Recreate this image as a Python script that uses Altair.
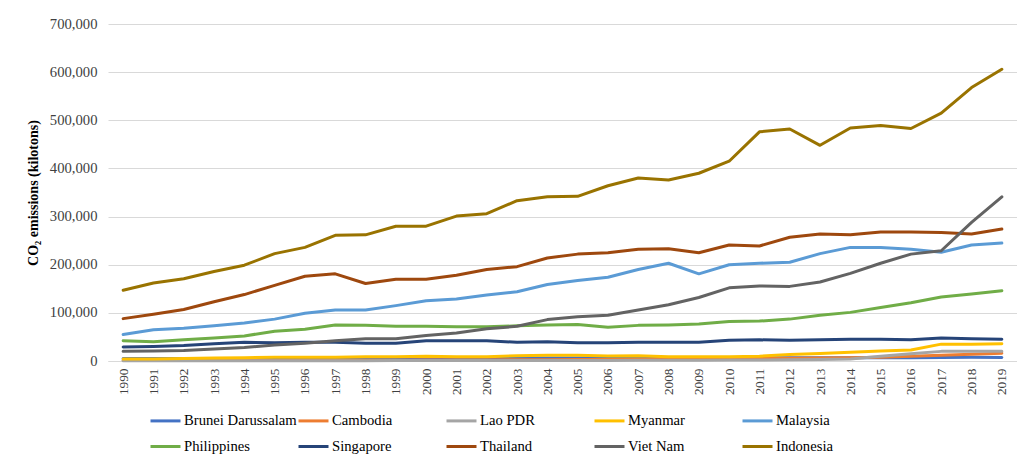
import altair as alt
import pandas as pd

years = ["1990", "1991", "1992", "1993", "1994", "1995", "1996", "1997", "1998", "1999",
         "2000", "2001", "2002", "2003", "2004", "2005", "2006", "2007", "2008", "2009",
         "2010", "2011", "2012", "2013", "2014", "2015", "2016", "2017", "2018", "2019"]

series_names = ["Brunei Darussalam", "Cambodia", "Lao PDR", "Myanmar", "Malaysia",
                "Philippines", "Singapore", "Thailand", "Viet Nam", "Indonesia"]
series_colors = ["#4472C4", "#ED7D31", "#A5A5A5", "#FFC000", "#5B9BD5",
                 "#70AD47", "#264478", "#9E480E", "#636363", "#997300"]

brunei = [5000, 5000, 5000, 5000, 5000, 6000, 6000, 6000, 6000, 6000,
          6000, 6000, 6000, 6000, 6000, 6000, 6000, 6000, 6000, 6000,
          6500, 7000, 7000, 7000, 7000, 7000, 7000, 7500, 8000, 7500]
cambodia = [1000, 1000, 1000, 1000, 1000, 1200, 1300, 1500, 1700, 1800,
            2000, 2200, 2300, 2500, 2600, 3000, 3200, 3500, 4000, 4200,
            5000, 5200, 5500, 6000, 7000, 8000, 10000, 12000, 14000, 16000]
lao = [300, 300, 400, 400, 400, 500, 500, 600, 700, 800,
       1000, 1000, 1000, 1000, 1000, 1100, 1200, 1300, 1500, 1700,
       2000, 2000, 2500, 3000, 4000, 10000, 15000, 20000, 20500, 20500]
myanmar = [4000, 4000, 5000, 6000, 7000, 8000, 8000, 8000, 9000, 9000,
           10000, 9000, 9000, 11000, 12000, 12000, 10500, 11000, 9000, 9000,
           9000, 10000, 13500, 15500, 18000, 21000, 23000, 35000, 35000, 36000]
malaysia = [55000, 65000, 68000, 73000, 79000, 87000, 99000, 106000, 106000, 115000,
            125000, 129000, 137000, 144000, 159000, 167000, 174000, 190000, 203000, 181000,
            200000, 203000, 205000, 223000, 236000, 236000, 232000, 226000, 241000, 245000]
philippines = [42000, 40000, 44000, 48000, 52000, 62000, 66000, 75000, 74000, 72000,
               72000, 71000, 71000, 73000, 75000, 76000, 70000, 74000, 75000, 77000,
               82000, 83000, 87000, 95000, 101000, 111000, 121000, 133000, 139000, 146000]
singapore = [29000, 30000, 32000, 36000, 39000, 38000, 39000, 39000, 37000, 37000,
             42000, 42000, 42000, 39000, 40000, 38000, 38000, 39000, 39000, 39000,
             43000, 44000, 43000, 44000, 45000, 45000, 44000, 48000, 46000, 45000]
thailand = [88000, 97000, 107000, 123000, 138000, 157000, 176000, 181000, 161000, 170000,
            170000, 178000, 190000, 196000, 214000, 222000, 225000, 232000, 233000, 225000,
            241000, 239000, 257000, 264000, 262000, 268000, 268000, 267000, 264000, 274000]
vietnam = [20000, 21000, 22000, 25000, 28000, 33000, 37000, 42000, 46000, 46000,
           53000, 58000, 67000, 72000, 86000, 92000, 95000, 106000, 117000, 132000,
           152000, 156000, 155000, 164000, 182000, 203000, 222000, 229000, 288000, 341000]
indonesia = [147000, 162000, 171000, 186000, 199000, 223000, 236000, 261000, 262000, 280000,
             280000, 301000, 306000, 333000, 341000, 342000, 364000, 380000, 376000, 390000,
             415000, 476000, 482000, 448000, 484000, 489000, 483000, 515000, 568000, 606000]

series_values = [brunei, cambodia, lao, myanmar, malaysia,
                 philippines, singapore, thailand, vietnam, indonesia]

y_ticks = [0, 100000, 200000, 300000, 400000, 500000, 600000, 700000]

rows = []
for idx, (name, vals) in enumerate(zip(series_names, series_values)):
    for yr, v in zip(years, vals):
        rows.append({"Year": yr, "Country": name, "Emissions": v, "ord": idx})
df = pd.DataFrame(rows)

FONT = "'Liberation Serif', 'Times New Roman', Times, serif"

chart = alt.Chart(df).mark_line(
    strokeWidth=3, strokeJoin="round", strokeCap="round"
).encode(
    x=alt.X("Year:O", sort=years,
            scale=alt.Scale(type="point", padding=0.5),
            axis=alt.Axis(title=None, labelAngle=270, labelFont=FONT, labelFontSize=13.3,
                          labelColor="#404040", labelPadding=7, ticks=False, tickSize=0,
                          domainColor="#D9D9D9", domainWidth=1, grid=False)),
    y=alt.Y("Emissions:Q",
            scale=alt.Scale(domain=[0, 700000], nice=False),
            axis=alt.Axis(title="CO₂ emissions (kilotons)", values=y_ticks,
                          labelExpr="datum.value == 0 ? '0' : floor(datum.value / 1000) + ',000'",
                          labelFont=FONT, labelFontSize=14.67, labelColor="#404040",
                          labelPadding=11, ticks=False, tickSize=0, domain=False,
                          grid=True, gridColor="#D9D9D9", gridWidth=1,
                          titleFont=FONT, titleFontSize=14, titleFontWeight="bold",
                          titleColor="#000000", titlePadding=9)),
    color=alt.Color("Country:N", sort=series_names,
                    scale=alt.Scale(domain=series_names, range=series_colors),
                    legend=alt.Legend(title=None, orient="none", legendX=41, legendY=380,
                                      direction="horizontal", columns=5, gridAlign="all",
                                      symbolType="stroke", symbolSize=900,
                                      symbolStrokeWidth=3, labelFont=FONT,
                                      labelFontSize=14.67, labelColor="#000000",
                                      labelOffset=2, columnPadding=-15, rowPadding=2,
                                      labelLimit=200)),
    order=alt.Order("ord:Q"),
    detail="Country:N",
).properties(
    width=909, height=337,
    autosize=alt.AutoSizeParams(type="none"),
    padding={"left": 100, "top": 16, "right": 0, "bottom": 100},
).configure(
    font=FONT
).configure_view(stroke=None)

chart.save("out.html", embed_options={"renderer": "svg", "actions": False})
